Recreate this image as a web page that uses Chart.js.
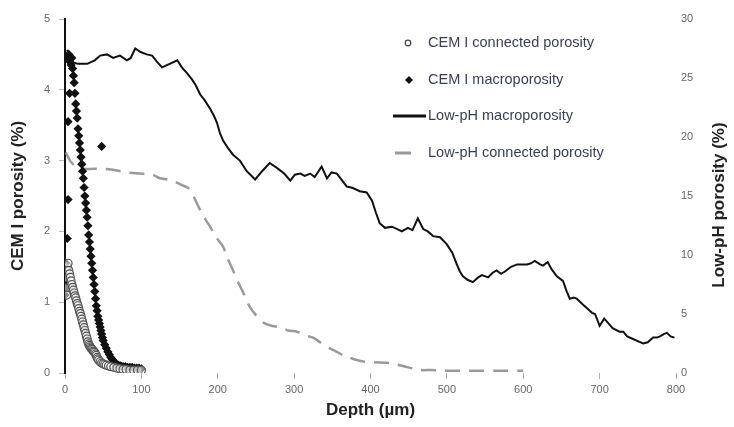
<!DOCTYPE html>
<html>
<head>
<meta charset="utf-8">
<script src="https://cdn.jsdelivr.net/npm/chart.js"></script>
<style>
  html, body { margin: 0; padding: 0; background: #fff; }
  #wrap { position: relative; width: 734px; height: 427px; }
</style>
</head>
<body>
<div id="wrap"><canvas id="chart"></canvas></div>
<script>
// CEM I macroporosity (filled diamonds), left axis
const cemMacroDepth = [3, 5, 6, 8, 9, 10, 11, 12, 13, 14, 15, 16, 17, 18, 19, 20, 21, 22, 23, 24, 25, 26, 27, 28, 29, 30,
  31, 32, 33, 34, 35, 36, 37, 38, 39, 40, 41, 42, 43, 44, 45, 46, 47, 48, 49, 50, 52, 54, 56, 58, 60, 62, 64, 66, 68, 70,
  73, 76, 79, 82, 85, 88, 91, 94, 97, 100,
  6, 4, 4, 3, 1, 0, 1, 0, 48];
const cemMacroValue = [4.45, 4.5, 4.4, 4.35, 4.45, 4.3, 4.2, 4.1, 3.95, 3.8, 3.7, 3.6, 3.45, 3.35, 3.25, 3.15, 3.05, 2.95, 2.85, 2.75, 2.62, 2.5, 2.4, 2.3, 2.2, 2.08,
  1.95, 1.85, 1.75, 1.65, 1.55, 1.45, 1.35, 1.25, 1.15, 1.05, 0.95, 0.88, 0.8, 0.75, 0.7, 0.65, 0.6, 0.55, 0.5, 0.46, 0.4, 0.35, 0.3, 0.26, 0.22, 0.19, 0.16, 0.14, 0.12, 0.11,
  0.1, 0.09, 0.09, 0.08, 0.08, 0.08, 0.07, 0.07, 0.07, 0.06,
  3.95, 3.55, 2.45, 1.9, 1.55, 1.3, 1.2, 1.1, 3.2];

// CEM I connected porosity (open circles), left axis
const cemConnDepth = [1, 1, 2, 2, 3, 4, 5, 6, 7, 8, 9, 10, 11, 12, 13, 14, 15, 16, 17, 18, 19, 20, 21, 22, 23, 24, 25,
  26, 27, 28, 29, 30, 31, 32, 33, 34, 35, 36, 37, 38, 39, 40, 41, 42, 43, 44, 46, 48, 50, 52, 54, 57, 60, 64, 68, 72,
  76, 80, 85, 90, 95, 100];
const cemConnValue = [1.35, 1.2, 1.45, 1.1, 1.5, 1.55, 1.45, 1.4, 1.35, 1.3, 1.25, 1.21, 1.17, 1.13, 1.09, 1.06, 1.02, 0.98, 0.95, 0.91, 0.87, 0.84, 0.8, 0.76, 0.72, 0.68, 0.64,
  0.6, 0.56, 0.52, 0.48, 0.44, 0.41, 0.39, 0.37, 0.35, 0.34, 0.33, 0.31, 0.3, 0.29, 0.27, 0.25, 0.22, 0.2, 0.18, 0.16, 0.14, 0.13, 0.12, 0.11, 0.1, 0.09, 0.08, 0.07, 0.06,
  0.05, 0.05, 0.04, 0.04, 0.04, 0.04];

// Low-pH macroporosity (black line), right axis
const lowMacroDepth = [3, 6.5, 17, 29, 39, 46, 55, 63, 72, 81, 86, 92, 99, 107, 114, 120, 127, 137, 147, 153, 160, 166, 171, 177,
  183, 190, 195, 199, 203, 207, 213, 220, 229, 238, 249, 258, 268, 277, 287, 295, 301, 308, 314, 321, 327, 336, 343,
  349, 356, 363, 369, 376, 386, 395, 402, 407, 412, 419, 428, 435, 441, 449, 455, 462, 469, 475, 482, 491, 500, 507,
  513, 517, 521, 527, 534, 541, 546, 554, 560, 565, 571, 576, 584, 592, 598, 605, 610, 615, 622, 626, 632, 637, 644,
  652, 657, 661, 666, 670, 678, 685, 690, 694, 700, 706, 709, 717, 726, 731, 736, 743, 750, 757, 763, 770, 775, 779,
  784, 788, 793, 798];
const lowMacroValue = [27.4, 26.4, 26.2, 26.2, 26.5, 26.9, 27.0, 26.7, 26.9, 26.5, 26.7, 27.5, 27.2, 27.0, 26.9, 26.4, 25.9, 26.2, 26.5, 25.9, 25.4, 24.9, 24.4, 23.6,
  23.1, 22.4, 21.8, 21.2, 20.3, 19.7, 19.1, 18.5, 18.0, 17.1, 16.4, 17.1, 17.8, 17.4, 16.9, 16.3, 16.8, 16.9, 16.7, 16.9, 16.6, 17.5, 16.5,
  17.0, 16.9, 16.3, 15.8, 15.7, 15.4, 15.3, 14.6, 13.6, 12.7, 12.3, 12.4, 12.2, 12.0, 12.3, 12.1, 13.1, 12.2, 12.0, 11.6, 11.5, 10.9, 10.2,
  9.2, 8.6, 8.2, 7.9, 7.7, 8.1, 8.3, 8.1, 8.5, 8.7, 8.4, 8.6, 9.0, 9.2, 9.2, 9.2, 9.3, 9.5, 9.2, 9.1, 9.4, 8.8, 8.2,
  7.8, 6.9, 6.3, 6.4, 6.3, 5.8, 5.4, 5.1, 5.0, 4.0, 4.6, 4.4, 3.8, 3.5, 3.5, 3.1, 2.9, 2.7, 2.5, 2.6, 3.0, 3.0, 3.1,
  3.3, 3.4, 3.1, 3.0];

// Low-pH connected porosity (grey dashed line), right axis
const lowConnDepth = [1, 6.5, 14, 24, 37, 50, 65, 81, 98, 115, 124, 134, 144, 154, 161, 166, 171, 177, 183, 190, 198, 207,
  213, 220, 225, 232, 237, 242, 250, 259, 270, 281, 292, 304, 314, 325, 334, 343, 353, 364, 373, 382, 397, 412, 429,
  448, 465, 480, 495, 517, 543, 569, 600];
const lowConnValue = [18.7, 18.0, 17.5, 17.3, 17.3, 17.3, 17.2, 17.0, 16.9, 16.8, 16.5, 16.4, 16.2, 15.9, 15.7, 15.3, 14.6, 13.8, 13.1, 12.4, 11.5, 10.7,
  9.7, 8.7, 7.9, 7.0, 6.3, 5.6, 4.9, 4.3, 4.0, 3.9, 3.6, 3.5, 3.2, 3.0, 2.6, 2.2, 1.9, 1.5, 1.3, 1.1, 0.9, 0.9, 0.8,
  0.5, 0.25, 0.25, 0.2, 0.2, 0.2, 0.2, 0.2];

const cemTicks = [0, 1, 2, 3, 4, 5];
const lowTicks = [0, 5, 10, 15, 20, 25, 30];
const depthTicks = [0, 100, 200, 300, 400, 500, 600, 700, 800];

const labels = ['CEM I connected porosity', 'CEM I macroporosity', 'Low-pH macroporosity', 'Low-pH connected porosity'];

const pts = (xs, ys) => xs.map((x, i) => ({ x: x, y: ys[i] }));
const FONT = "Arial, 'Liberation Sans', sans-serif";

// legend drawn inside the plot area + right title reading bottom-to-top
const extrasPlugin = {
  id: 'extras',
  afterDraw(chart) {
    const ctx = chart.ctx;
    ctx.save();
    const tx = 428;
    const rows = [43, 80, 116, 153];
    // open circle
    ctx.beginPath();
    ctx.arc(408, rows[0], 2.8, 0, Math.PI * 2);
    ctx.fillStyle = '#fff';
    ctx.fill();
    ctx.strokeStyle = '#444';
    ctx.lineWidth = 1.2;
    ctx.stroke();
    // diamond
    ctx.beginPath();
    ctx.moveTo(409, rows[1] - 4);
    ctx.lineTo(413, rows[1]);
    ctx.lineTo(409, rows[1] + 4);
    ctx.lineTo(405, rows[1]);
    ctx.closePath();
    ctx.fillStyle = '#111';
    ctx.fill();
    // black line
    ctx.strokeStyle = '#111';
    ctx.lineWidth = 3;
    ctx.beginPath();
    ctx.moveTo(393, rows[2]);
    ctx.lineTo(426, rows[2]);
    ctx.stroke();
    // grey line
    ctx.strokeStyle = '#999';
    ctx.lineWidth = 3;
    ctx.beginPath();
    ctx.moveTo(395, rows[3]);
    ctx.lineTo(411, rows[3]);
    ctx.stroke();
    ctx.font = '14.5px ' + FONT;
    ctx.fillStyle = '#3a3f55';
    ctx.textBaseline = 'middle';
    ctx.textAlign = 'left';
    labels.forEach((t, i) => ctx.fillText(t, tx, rows[i]));

    // right axis title
    ctx.font = 'bold 17px ' + FONT;
    ctx.fillStyle = '#222';
    ctx.textAlign = 'center';
    ctx.translate(719, 205);
    ctx.rotate(-Math.PI / 2);
    ctx.fillText('Low-pH porosity (%)', 0, 0);
    ctx.restore();
  }
};

new Chart(document.getElementById('chart'), {
  type: 'scatter',
  data: {
    datasets: [
      {
        label: labels[0],
        data: pts(cemConnDepth, cemConnValue),
        yAxisID: 'y',
        pointStyle: 'circle',
        pointRadius: 4,
        pointBorderWidth: 1.2,
        pointBorderColor: '#555',
        pointBackgroundColor: 'rgba(255,255,255,0.5)',
        showLine: false
      },
      {
        label: labels[1],
        data: pts(cemMacroDepth, cemMacroValue),
        yAxisID: 'y',
        pointStyle: 'rectRot',
        pointRadius: 4.6,
        pointBorderWidth: 0,
        pointBackgroundColor: '#111',
        pointBorderColor: '#111',
        showLine: false
      },
      {
        label: labels[2],
        data: pts(lowMacroDepth, lowMacroValue),
        yAxisID: 'y2',
        showLine: true,
        borderColor: '#111',
        borderWidth: 2,
        pointRadius: 0,
        tension: 0
      },
      {
        label: labels[3],
        data: pts(lowConnDepth, lowConnValue),
        yAxisID: 'y2',
        showLine: true,
        borderColor: '#9a9a9a',
        borderWidth: 2.5,
        borderDash: [15, 9],
        pointRadius: 0,
        tension: 0.2
      }
    ]
  },
  options: {
    responsive: true,
    maintainAspectRatio: false,
    animation: false,
    devicePixelRatio: 1,
    layout: { padding: { top: 19, left: 0, right: 0, bottom: 0 } },
    plugins: {
      legend: { display: false },
      tooltip: { enabled: false }
    },
    scales: {
      x: {
        type: 'linear',
        min: 0,
        max: 800,
        afterFit: s => { s.height = 54; },
        afterBuildTicks: s => { s.ticks = depthTicks.map(v => ({ value: v })); },
        grid: { display: true, drawOnChartArea: false, drawTicks: true, tickLength: 6, tickColor: '#aaa', tickWidth: 1 },
        border: { display: false },
        ticks: { color: '#666', font: { size: 11, family: FONT }, padding: 4, maxRotation: 0 },
        title: { display: true, text: 'Depth (µm)', color: '#222', font: { size: 17, weight: 'bold', family: FONT }, padding: { top: 0, bottom: 6 } }
      },
      y: {
        position: 'left',
        min: 0,
        max: 5,
        afterFit: s => { s.width = 65; },
        afterBuildTicks: s => { s.ticks = cemTicks.map(v => ({ value: v })); },
        grid: { display: true, drawOnChartArea: false, drawTicks: true, tickLength: 6, tickColor: '#bbb', tickWidth: 1 },
        border: { display: true, color: '#111', width: 2 },
        ticks: { color: '#666', font: { size: 11, family: FONT }, padding: 9 },
        title: { display: true, text: 'CEM I porosity (%)', color: '#222', font: { size: 17, weight: 'bold', family: FONT }, padding: { top: 8, bottom: 0 } }
      },
      y2: {
        position: 'right',
        min: 0,
        max: 30,
        afterFit: s => { s.width = 58; },
        afterBuildTicks: s => { s.ticks = lowTicks.map(v => ({ value: v })); },
        grid: { display: false, drawTicks: false },
        border: { display: false },
        ticks: { color: '#666', font: { size: 11, family: FONT }, padding: 5 }
      }
    }
  },
  plugins: [extrasPlugin]
});
</script>
</body>
</html>
